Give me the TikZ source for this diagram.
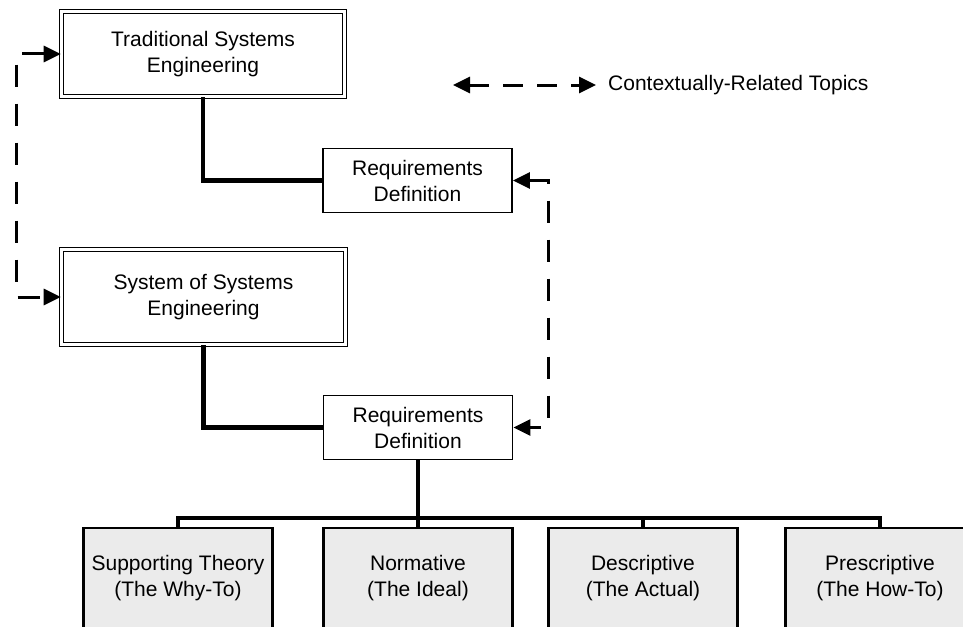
\documentclass[tikz,border=0pt]{standalone}
\usepackage{fontspec}
\setmainfont{Liberation Sans}
\usetikzlibrary{arrows.meta}
\begin{document}
\begin{tikzpicture}[x=1pt,y=-1pt,
  font=\fontsize{21}{26}\selectfont,
  dblbox/.style={draw, double, line width=1.6pt, double distance=2.4pt, align=center, inner sep=0pt},
  reqbox/.style={draw, line width=1.8pt, align=center, inner sep=0pt, minimum width=189pt, minimum height=64pt},
  leafbox/.style={draw, line width=2.2pt, fill=gray!16, align=center, inner sep=0pt, minimum width=189pt, minimum height=100pt},
  conn/.style={line width=4.4pt},
  ctx/.style={line width=3pt, dash pattern=on 22pt off 17pt, {Triangle[length=17pt,width=16pt]}-{Triangle[length=17pt,width=16pt]}},
  ctxr/.style={line width=3pt, dash pattern=on 20pt off 14pt, {Triangle[length=17pt,width=16pt]}-{Triangle[length=17pt,width=16pt]}},
]
\clip (0,0) rectangle (963,626);
\useasboundingbox (0,0) rectangle (963,626);
\fill[white] (0,0) rectangle (963,626);

% boxes
\node[dblbox, minimum width=283pt, minimum height=85pt] (tb) at (203,54) {Traditional Systems\\Engineering};
\node[dblbox, minimum width=284pt, minimum height=95pt] (sb) at (203.5,297) {System of Systems\\Engineering};
\node[reqbox] (r1) at (417.5,180.5) {Requirements\\Definition};
\node[reqbox] (r2) at (418,427.5) {Requirements\\Definition};

\node[leafbox] (b1) at (178,578) {Supporting Theory\\(The Why-To)};
\node[leafbox] (b2) at (418,578) {Normative\\(The Ideal)};
\node[leafbox] (b3) at (643,578) {Descriptive\\(The Actual)};
\node[leafbox] (b4) at (880,578) {Prescriptive\\(The How-To)};

% hierarchy connectors
\draw[conn] (tb.south) |- (r1.west);
\draw[conn] (sb.south) |- (r2.west);
\coordinate (bar) at (0,518);
\draw[conn] (r2.south) -- (r2.south |- bar);
\draw[conn] (b1.north) -- (b1.north |- bar) -- (b4.north |- bar) -- (b4.north);
\draw[conn] (b2.north) -- (b2.north |- bar);
\draw[conn] (b3.north) -- (b3.north |- bar);

% contextual links
\draw[ctx] (tb.west) -- (16,54) -- (16,297) -- (sb.west);
\draw[ctx] (r1.east) -- (548,180.5) -- (548,427.5) -- (r2.east);

% legend
\coordinate (la) at (453,85);
\coordinate (lb) at (596,85);
\draw[ctxr] (la) -- (lb);
\node[anchor=west, inner sep=0pt] (lt) at (608,85) {Contextually-Related Topics};
\end{tikzpicture}
\end{document}
